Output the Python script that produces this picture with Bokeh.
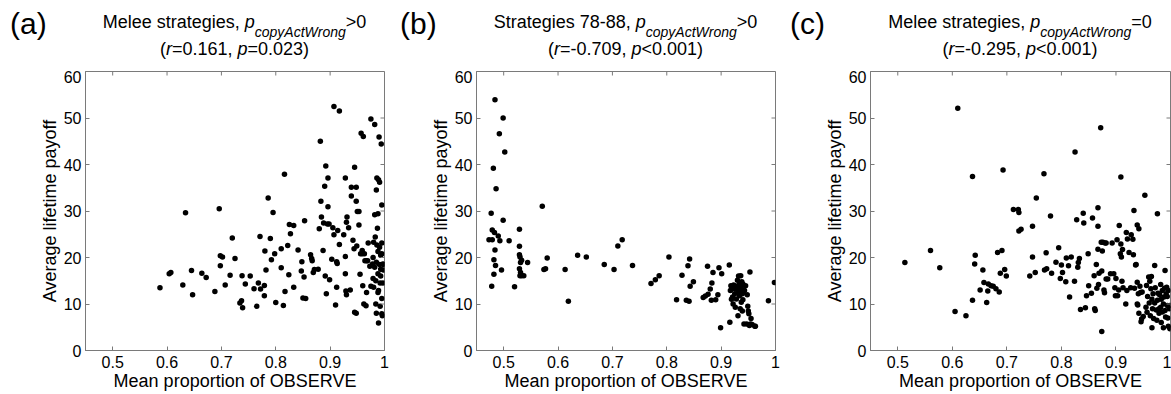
from bokeh.plotting import figure
from bokeh.layouts import row, column
from bokeh.models import FixedTicker, Range1d, Div
from bokeh.embed import file_html
from bokeh.resources import INLINE

# ---------------- data ----------------
xa = [0.587,0.604,0.607,0.629,0.634,0.645,0.647,0.664,0.672,0.688,0.696,0.698,0.698,0.702,0.707,0.716,0.720,0.725,
      0.734,0.737,0.739,0.738,0.744,0.753,0.760,0.765,0.768,0.771,0.772,0.779,0.779,0.780,0.782,0.786,0.790,0.792,
      0.795,0.798,0.800,0.810,0.810,0.814,0.816,0.817,0.822,0.824,0.825,0.827,0.833,0.833,0.841,0.848,0.847,0.850,
      0.852,0.853,0.855,0.864,0.866,0.867,0.869,0.871,0.878,0.880,0.882,0.883,0.884,0.887,0.888,0.890,0.891,0.892,
      0.893,0.895,0.896,0.896,0.898,0.899,0.903,0.905,0.907,0.907,0.910,0.912,0.912,0.913,0.914,0.917,0.917,0.925,
      0.928,0.928,0.928,0.929,0.930,0.930,0.931,0.934,0.937,0.939,0.939,0.942,0.944,0.945,0.945,0.948,0.948,0.948,
      0.949,0.950,0.953,0.953,0.955,0.956,0.957,0.959,0.959,0.960,0.961,0.962,0.963,0.964,0.966,0.967,0.967,0.969,
      0.970,0.973,0.975,0.975,0.978,0.979,0.979,0.980,0.980,0.982,0.982,0.982,0.983,0.984,0.984,0.985,0.985,0.985,
      0.986,0.986,0.987,0.988,0.988,0.988,0.988,0.989,0.989,0.989,0.990,0.991,0.991,0.991,0.992,0.992,0.993,0.993,
      0.993,0.994,0.995,0.995,0.995,0.995,0.995,0.996,0.997,0.997,0.998,0.998]
ya = [13.5,16.5,16.8,14.1,29.6,17.2,12.0,16.6,15.7,12.7,30.5,18.2,20.4,20.1,14.1,16.2,24.2,19.8,
      10.2,10.7,9.2,16.1,14.3,16.0,13.3,9.5,14.5,24.5,13.2,14.0,11.8,21.4,17.3,32.8,24.1,19.5,
      29.7,20.8,10.3,17.8,21.9,9.7,37.9,12.7,22.6,16.3,27.1,25.1,26.9,13.6,21.6,19.1,17.1,11.3,
      15.8,27.9,11.2,20.6,19.8,19.3,16.8,17.4,17.5,26.2,45.0,32.1,28.7,21.5,27.4,35.3,16.0,39.7,
      12.2,27.2,30.9,37.1,27.2,15.2,19.6,26.4,52.5,24.9,9.8,13.6,19.1,18.7,25.8,51.5,22.8,24.9,
      37.1,20.2,16.5,12.8,12.0,27.6,28.7,26.4,13.0,33.2,35.1,23.7,21.9,39.4,8.2,8.0,35.1,32.1,
      22.5,29.9,29.9,27.0,16.4,20.8,46.7,20.8,21.5,13.9,46.0,10.0,20.8,19.3,9.6,12.5,19.3,19.3,
      23.1,18.1,13.8,49.8,18.6,15.5,20.0,23.3,13.6,48.6,29.2,17.9,24.4,15.0,10.0,34.5,8.0,19.0,
      22.7,37.1,26.3,29.4,16.5,12.5,21.3,12.9,36.7,5.9,45.9,22.2,18.5,36.2,9.5,14.5,20.5,16.0,
      17.5,44.4,23.1,31.3,20.8,11.2,7.9,7.5,18.6,14.5,17.3,18.5]

xb = [0.473,0.477,0.478,0.479,0.479,0.481,0.482,0.482,0.483,0.484,0.484,0.485,0.486,0.490,0.492,0.493,0.496,0.499,
      0.499,0.502,0.510,0.520,0.529,0.529,0.529,0.530,0.531,0.529,0.531,0.530,0.533,0.533,0.537,0.544,0.571,0.574,
      0.577,0.580,0.613,0.619,0.636,0.652,0.685,0.703,0.710,0.718,0.737,0.771,0.779,0.786,0.804,0.818,0.828,0.836,
      0.839,0.841,0.842,0.843,0.849,0.867,0.871,0.875,0.876,0.880,0.882,0.883,0.885,0.890,0.894,0.896,0.899,0.901,
      0.915,0.916,0.917,0.918,0.919,0.920,0.921,0.922,0.923,0.925,0.926,0.926,0.927,0.928,0.929,0.930,0.931,0.931,
      0.932,0.933,0.934,0.934,0.935,0.936,0.937,0.937,0.938,0.939,0.939,0.940,0.940,0.942,0.943,0.945,0.947,0.948,
      0.949,0.950,0.951,0.952,0.953,0.954,0.955,0.957,0.962,0.963,0.987,0.998]
yb = [23.8,29.5,13.8,23.8,25.9,39.2,19.5,16.4,25.4,53.9,21.6,18.3,34.8,24.6,46.6,23.6,17.3,28.0,
      50.0,42.7,23.6,13.7,26.1,22.4,20.6,20.1,18.9,17.6,16.8,16.1,19.4,16.1,16.1,18.9,31.0,17.4,
      17.6,19.9,17.4,10.6,20.5,20.1,18.5,17.4,22.5,23.8,18.3,14.4,15.2,16.1,20.1,10.9,16.2,10.8,
      18.2,10.6,19.7,13.8,14.8,11.4,11.7,18.1,12.1,13.2,10.8,14.5,16.8,10.9,12.0,17.8,4.9,16.5,
      18.4,6.1,12.9,13.9,11.0,13.4,11.5,10.0,14.1,12.2,9.3,13.2,13.8,11.1,13.4,15.1,12.4,7.5,
      16.0,14.2,11.8,12.9,9.0,16.1,13.6,10.4,14.8,12.2,8.5,14.3,10.9,5.7,12.9,13.9,5.7,12.0,
      9.5,8.5,7.9,5.4,16.9,5.7,6.9,5.6,5.2,5.2,10.7,14.6]

xc = [0.513,0.560,0.577,0.605,0.610,0.625,0.637,0.637,0.641,0.642,0.651,0.656,0.658,0.663,0.665,0.666,0.671,0.675,
      0.680,0.683,0.686,0.688,0.691,0.693,0.696,0.699,0.712,0.721,0.722,0.722,0.726,0.742,0.747,0.747,0.752,0.754,
      0.768,0.769,0.772,0.773,0.780,0.782,0.790,0.795,0.798,0.800,0.802,0.808,0.809,0.813,0.815,0.818,0.824,0.825,
      0.828,0.830,0.831,0.833,0.835,0.840,0.841,0.844,0.846,0.849,0.850,0.855,0.857,0.860,0.861,0.862,0.864,0.865,
      0.867,0.867,0.867,0.868,0.869,0.872,0.873,0.874,0.874,0.875,0.876,0.878,0.879,0.880,0.882,0.882,0.885,0.890,
      0.893,0.896,0.898,0.899,0.900,0.902,0.903,0.905,0.906,0.908,0.909,0.909,0.910,0.911,0.912,0.913,0.918,0.919,
      0.920,0.921,0.924,0.927,0.928,0.931,0.932,0.933,0.934,0.936,0.937,0.939,0.939,0.939,0.940,0.941,0.942,0.942,
      0.944,0.945,0.946,0.947,0.948,0.950,0.953,0.955,0.956,0.957,0.958,0.960,0.961,0.962,0.963,0.964,0.965,0.966,
      0.966,0.967,0.968,0.969,0.971,0.971,0.972,0.974,0.975,0.976,0.976,0.977,0.979,0.979,0.980,0.982,0.982,0.983,
      0.983,0.985,0.985,0.987,0.987,0.988,0.989,0.990,0.990,0.991,0.992,0.993,0.994,0.994,0.995,0.996,0.996,0.998,
      0.998,0.999,0.999]
yc = [18.9,21.5,17.8,8.4,52.1,7.5,37.4,10.8,18.6,20.5,13.0,17.3,14.6,10.3,12.8,14.3,13.9,13.8,
      13.3,21.1,12.6,16.6,21.5,38.8,17.4,16.0,30.3,30.3,29.7,25.7,26.1,16.0,20.1,26.7,16.8,32.8,
      38.0,17.3,21.0,17.6,28.9,16.6,19.0,22.1,15.5,18.4,16.8,14.8,19.9,18.2,11.5,20.1,14.9,42.7,
      28.1,17.9,18.9,19.8,8.8,29.5,27.4,9.2,11.8,20.8,13.9,12.3,28.5,16.1,9.0,8.6,18.5,13.4,
      30.7,21.8,26.7,14.2,16.6,47.9,23.3,17.1,4.1,21.4,23.3,13.0,12.4,23.1,15.4,23.1,15.4,16.5,
      23.1,16.5,13.5,11.8,15.5,23.8,11.8,13.0,26.9,20.8,37.3,22.9,20.1,14.9,21.7,13.5,10.0,25.4,
      12.9,24.0,21.1,13.5,24.9,23.9,20.6,30.1,13.4,18.4,18.5,14.7,27.0,10.0,9.8,12.2,26.2,8.0,
      13.8,12.5,6.2,6.8,12.6,7.3,33.4,9.3,14.0,8.2,11.6,15.8,10.2,14.9,7.5,13.3,15.9,11.0,
      4.9,9.0,12.2,6.9,18.3,10.2,13.5,8.7,6.5,29.4,10.8,12.3,9.0,8.0,12.0,14.2,9.3,6.0,
      11.0,8.3,12.9,10.0,4.9,11.5,13.4,8.6,17.2,7.2,12.2,13.6,9.7,11.6,7.0,5.2,12.9,9.0,
      5.0,9.7,4.7]

x_ticks = [0.5, 0.6, 0.7, 0.8, 0.9, 1.0]
y_ticks = [0, 10, 20, 30, 40, 50, 60]
panel_tags = ["(a)", "(b)", "(c)"]
title_heads = ["Melee strategies, ", "Strategies 78-88, ", "Melee strategies, "]
title_tails = ["&gt;0", "&gt;0", "=0"]
stat_r = ["=0.161, ", "=-0.709, ", "=-0.295, "]
stat_p = ["=0.023)", "&lt;0.001)", "&lt;0.001)"]
x_label = "Mean proportion of OBSERVE"
y_label = "Average lifetime payoff"

# ---------------- styling ----------------
FONT = "Liberation Sans"
GREY = "#7a7a7a"
XMIN, XMAX, YMIN, YMAX = 0.45, 1.0, 0, 60
HEAD_H = 70
MAIN_H = 394 - HEAD_H


def make_header(i, width, left, right):
    cx = left + (width - left - right) / 2.0
    line = ("position:absolute;left:%.1fpx;width:400px;text-align:center;white-space:nowrap;"
            "font-size:18px;line-height:18px;color:black;" % (cx - 200))
    html = (
        f'<div style="position:relative;width:{width}px;height:{HEAD_H}px;'
        f'font-family:\'{FONT}\';overflow:visible;">'
        f'<div style="position:absolute;left:10px;top:9px;font-size:30px;line-height:30px;color:black;">'
        f'{panel_tags[i]}</div>'
        f'<div style="{line}top:13px;">{title_heads[i]}<i>p</i>'
        f'<span style="font-size:14px;line-height:0;vertical-align:-9px;font-style:italic;">copyActWrong</span>'
        f'{title_tails[i]}</div>'
        f'<div style="{line}top:39.5px;">(<i>r</i>{stat_r[i]}<i>p</i>{stat_p[i]}</div>'
        f'</div>'
    )
    return Div(text=html, width=width, height=HEAD_H, margin=(0, 0, 0, 0))


def make_panel(i, xs, ys, width, left, right):
    h = make_header(i, width, left, right)
    fw = width - left - right
    p = figure(width=width, height=MAIN_H, output_backend="svg", toolbar_location=None,
               x_range=Range1d(XMIN, XMAX), y_range=Range1d(YMIN, YMAX),
               min_border_left=left, min_border_right=right, min_border_top=1, min_border_bottom=44)
    p.outline_line_color = GREY
    p.grid.visible = False
    p.scatter(xs, ys, size=5.5, color="black", line_width=0)
    for ax in (p.xaxis[0], p.yaxis[0]):
        ax.axis_line_color = GREY
        ax.major_tick_line_color = GREY
        ax.major_tick_in = 4
        ax.major_tick_out = 0
        ax.minor_tick_line_color = None
        ax.major_label_text_font = FONT
        ax.major_label_text_font_size = "16px"
        ax.major_label_text_color = "black"
        ax.axis_label_text_font = FONT
        ax.axis_label_text_font_size = "18px"
        ax.axis_label_text_font_style = "normal"
        ax.axis_label_text_color = "black"
    p.xaxis[0].ticker = FixedTicker(ticks=x_ticks)
    p.xaxis[0].major_label_overrides = {1.0: "1"}
    p.yaxis[0].ticker = FixedTicker(ticks=y_ticks)
    p.xaxis[0].axis_label = x_label
    p.yaxis[0].axis_label = y_label
    p.xaxis[0].major_label_standoff = 5
    p.xaxis[0].axis_label_standoff = 0
    p.yaxis[0].major_label_standoff = 4
    p.yaxis[0].axis_label_standoff = 1
    # mirrored tick marks on top and right edges (4 px long, converted to data units)
    fh = MAIN_H - 1 - 44
    ty = 4 * (YMAX - YMIN) / fh
    tx = 4 * (XMAX - XMIN) / fw
    p.segment(x0=x_ticks, y0=[YMAX] * len(x_ticks), x1=x_ticks, y1=[YMAX - ty] * len(x_ticks),
              line_color=GREY, line_width=1)
    p.segment(x0=[XMAX] * len(y_ticks), y0=y_ticks, x1=[XMAX - tx] * len(y_ticks), y1=y_ticks,
              line_color=GREY, line_width=1)
    return column(h, p, spacing=0)

pa = make_panel(0, xa, ya, 390, 85, 6)
pb = make_panel(1, xb, yb, 390, 86, 5)
pc = make_panel(2, xc, yc, 391, 90, 1)

layout = row(pa, pb, pc, spacing=0)
open("out.html", "w").write(file_html(layout, INLINE))
